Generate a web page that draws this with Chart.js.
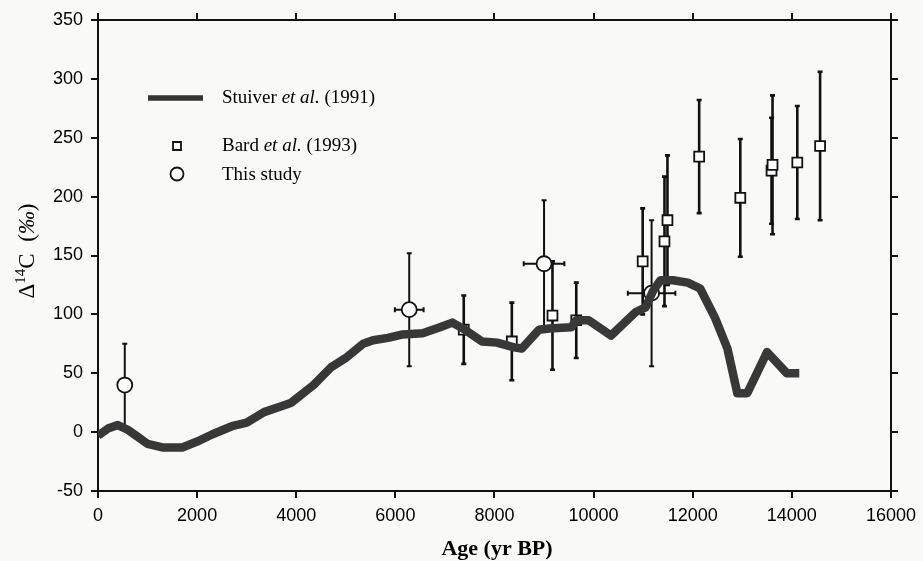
<!DOCTYPE html>
<html>
<head>
<meta charset="utf-8">
<script src="https://cdn.jsdelivr.net/npm/chart.js@4.4.1/dist/chart.umd.min.js"></script>
<style>
body{margin:0;background:#f9f9f8;}
#grafico{display:block;}
</style>
</head>
<body>
<canvas id="grafico" width="923" height="561"></canvas>
<script>
// Dados

// Stuiver et al. (1991) - curva
const stuiverAge = [0,200,400,600,800,1000,1300,1700,2000,2300,2700,3000,3350,3700,3900,4350,4700,5000,5350,5550,5850,6150,6550,6900,7150,7400,7750,8050,8400,8550,8900,9100,9550,9650,9900,10350,10850,11050,11200,11350,11600,11900,12150,12450,12700,12900,13100,13500,13900,14150];
const stuiverD14C = [-3,3,6,2,-4,-10,-13,-13,-8,-2,5,8,17,22,25,40,55,63,75,78,80,83,84,89,93,87,77,76,72,71,87,88,89,95,95,82,102,106,120,129,129,127,122,97,71,33,33,68,50,50];

// Bard et al. (1993)
const bardAge = [7380,8350,9170,9650,10990,11430,11490,12130,12960,13590,13610,14110,14570];
const bardD14C = [87,77,99,95,145,162,180,234,199,222,227,229,243];
const bardErr = [29,33,46,32,45,55,55,48,50,45,59,48,63];

// This study
const studyAge = [540,6280,9000,11170];
const studyD14C = [40,104,143,118];
const studyErr = [35,48,54,62];
const studyAgeErr = [0,290,410,480];

const xTicks = [0,16000,2000];
const yTicks = [-50,350,50];

const legendLabels = ["Stuiver", "Bard", "This study"];
const legendYears = ["(1991)", "(1993)"];

function pontos(xs, ys){
return xs.map((x,i)=>({x:x, y:ys[i]}));
}

// Barras de erro
const errorBars = {
id:"errorBars",
beforeDatasetsDraw(chart){
const c = chart.ctx;
const sx = chart.scales.x;
const sy = chart.scales.y;
c.save();
c.strokeStyle = "#111";

c.lineWidth = 2.6;
bardAge.forEach((a,i)=>{
const px = sx.getPixelForValue(a);
const y1 = sy.getPixelForValue(bardD14C[i] + bardErr[i]);
const y2 = sy.getPixelForValue(bardD14C[i] - bardErr[i]);
c.beginPath();
c.moveTo(px,y1); c.lineTo(px,y2);
c.moveTo(px-2.5,y1); c.lineTo(px+2.5,y1);
c.moveTo(px-2.5,y2); c.lineTo(px+2.5,y2);
c.stroke();
});

c.lineWidth = 2;
studyAge.forEach((a,i)=>{
const px = sx.getPixelForValue(a);
const py = sy.getPixelForValue(studyD14C[i]);
const y1 = sy.getPixelForValue(studyD14C[i] + studyErr[i]);
const y2 = sy.getPixelForValue(studyD14C[i] - studyErr[i]);
c.beginPath();
c.moveTo(px,y1); c.lineTo(px,y2);
c.moveTo(px-2.5,y1); c.lineTo(px+2.5,y1);
c.moveTo(px-2.5,y2); c.lineTo(px+2.5,y2);
if(studyAgeErr[i] > 0){
const x1 = sx.getPixelForValue(a - studyAgeErr[i]);
const x2 = sx.getPixelForValue(a + studyAgeErr[i]);
c.moveTo(x1,py); c.lineTo(x2,py);
c.moveTo(x1,py-2.5); c.lineTo(x1,py+2.5);
c.moveTo(x2,py-2.5); c.lineTo(x2,py+2.5);
}
c.stroke();
});
c.restore();
}
};

// Legenda e titulos
const textos = {
id:"textos",
afterDraw(chart){
const c = chart.ctx;
c.save();
c.fillStyle = "#000";
c.textBaseline = "middle";

// legenda
c.lineWidth = 5.5;
c.strokeStyle = "#333";
c.beginPath();
c.moveTo(148,98); c.lineTo(203,98);
c.stroke();

c.lineWidth = 1.8;
c.strokeStyle = "#111";
c.fillStyle = "#fff";
c.beginPath();
c.rect(173,142,8,8);
c.fill(); c.stroke();
c.beginPath();
c.arc(177,174,6.5,0,Math.PI*2);
c.fill(); c.stroke();

c.fillStyle = "#000";
const linha = (x,y,nome,ano)=>{
c.font = "19px 'Liberation Serif'";
c.fillText(nome + " ", x, y);
x += c.measureText(nome + " ").width;
c.font = "italic 19px 'Liberation Serif'";
c.fillText("et al.", x, y);
x += c.measureText("et al.").width;
c.font = "19px 'Liberation Serif'";
c.fillText(" " + ano, x, y);
};
linha(222,98,legendLabels[0],legendYears[0]);
linha(222,146,legendLabels[1],legendYears[1]);
c.font = "19px 'Liberation Serif'";
c.fillText(legendLabels[2],222,175);

// titulo eixo x
c.font = "bold 22px 'Liberation Serif'";
c.textAlign = "center";
c.fillText("Age (yr BP)", 497, 549);

// titulo eixo y (rodado)
c.translate(26,251);
c.rotate(-Math.PI/2);
c.textAlign = "left";
c.textBaseline = "alphabetic";
const partes = [
{t:"\u0394", f:"23px 'Liberation Serif'", dy:0},
{t:"14", f:"15px 'Liberation Serif'", dy:-9},
{t:"C  (", f:"23px 'Liberation Serif'", dy:0},
{t:"\u2030", f:"italic 23px 'Liberation Serif'", dy:0},
{t:")", f:"23px 'Liberation Serif'", dy:0}
];
let w = 0;
partes.forEach(p=>{ c.font = p.f; w += c.measureText(p.t).width; });
let x = -w/2;
partes.forEach(p=>{
c.font = p.f;
c.fillText(p.t, x, 8 + p.dy);
x += c.measureText(p.t).width;
});
c.restore();
}
};

const eixo = {
grid:{drawOnChartArea:false, tickLength:7, tickColor:"#111", lineWidth:2},
border:{color:"#111", width:2}
};

const semVirgula = v => String(v);

const ctx = document.getElementById("grafico");

new Chart(ctx,{
type:"scatter",
data:{
datasets:[
{
label:"Stuiver et al. (1991)",
data:pontos(stuiverAge, stuiverD14C),
showLine:true,
pointRadius:0,
borderColor:"#383838",
borderWidth:8.5,
borderJoinStyle:"round",
tension:0,
order:0
},
{
label:"Bard et al. (1993)",
data:pontos(bardAge, bardD14C),
pointStyle:"rect",
pointRadius:7,
borderWidth:1.8,
borderColor:"#111",
backgroundColor:"#fff",
order:1
},
{
label:"This study",
data:pontos(studyAge, studyD14C),
pointStyle:"circle",
pointRadius:7.5,
borderWidth:1.8,
borderColor:"#111",
backgroundColor:"#fff",
order:2
}
]
},
options:{
responsive:false,
animation:false,
devicePixelRatio:1,
layout:{padding:{top:20, right:28, left:0, bottom:0}},
plugins:{legend:{display:false}, tooltip:{enabled:false}},
scales:{
x:{
type:"linear", position:"bottom",
min:xTicks[0], max:xTicks[1],
ticks:{stepSize:xTicks[2], color:"#000", padding:7, maxRotation:0,
callback:semVirgula,
font:{family:"'Liberation Sans'", size:18}},
...eixo,
afterFit(s){ s.height = 70; }
},
x2:{
type:"linear", position:"top",
min:xTicks[0], max:xTicks[1],
ticks:{stepSize:xTicks[2], display:false},
...eixo,
afterFit(s){ s.height = 0; }
},
y:{
type:"linear", position:"left",
min:yTicks[0], max:yTicks[1],
ticks:{stepSize:yTicks[2], color:"#000", padding:8,
callback:semVirgula,
font:{family:"'Liberation Sans'", size:18}},
...eixo,
afterFit(s){ s.width = 98; }
},
y2:{
type:"linear", position:"right",
min:yTicks[0], max:yTicks[1],
ticks:{stepSize:yTicks[2], display:false},
...eixo,
afterFit(s){ s.width = 0; }
}
}
},
plugins:[errorBars, textos]
});
</script>
</body>
</html>
